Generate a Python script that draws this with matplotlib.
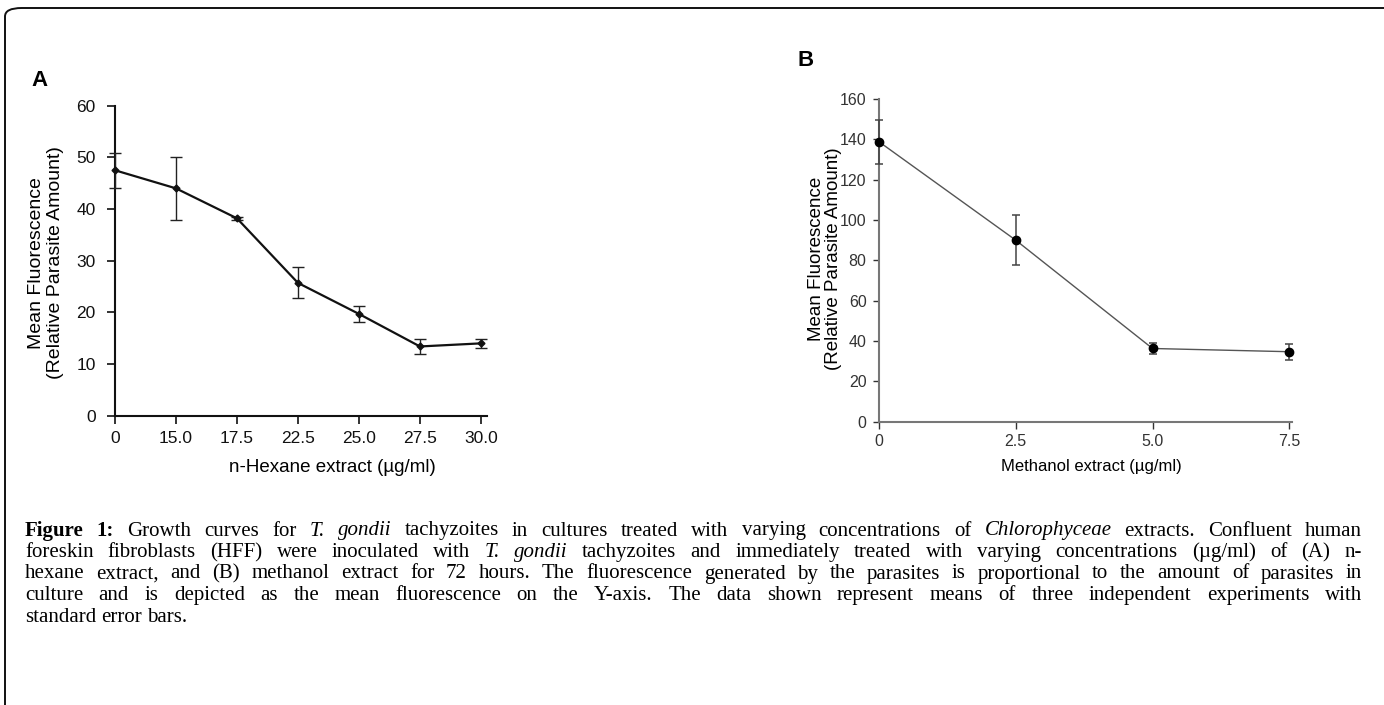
import matplotlib
matplotlib.use("Agg")
import matplotlib.pyplot as plt
from matplotlib.patches import FancyBboxPatch

# panel A: n-hexane extract
hex_labels = ['0', '15.0', '17.5', '22.5', '25.0', '27.5', '30.0']
hex_mean = [47.5, 44.0, 38.2, 25.7, 19.7, 13.4, 14.0]
hex_err = [3.4, 6.1, 0.3, 3.0, 1.6, 1.4, 0.8]

# panel B: methanol extract
meth_x = [0, 2.5, 5.0, 7.5]
meth_labels = ['0', '2.5', '5.0', '7.5']
meth_mean = [138.8, 90.0, 36.3, 34.7]
meth_err = [10.9, 12.5, 2.9, 4.0]

W, H = 1384, 705
fig = plt.figure(figsize=(W / 100, H / 100), dpi=100)
fig.patch.set_facecolor('white')

# rounded frame (only top and left visible)
frame = FancyBboxPatch((5 / W, -0.2), 1.2, 1.2 - 8 / H,
                       boxstyle="round,pad=0,rounding_size=0.012",
                       transform=fig.transFigure, fill=False,
                       ec='#111111', lw=1.4, clip_on=False)
fig.patches.append(frame)

sans = ['Liberation Sans', 'DejaVu Sans']
narrow = ['Liberation Sans Narrow', 'Liberation Sans', 'DejaVu Sans']
ylab = 'Mean Fluorescence\n(Relative Parasite Amount)'

# ---- panel A
axA = fig.add_axes([115 / W, (H - 415.7) / H, 372 / W, 310 / H])
xa = list(range(len(hex_labels)))
axA.errorbar(xa, hex_mean, yerr=hex_err, color='#111111', lw=1.6,
             marker='D', ms=3.5, ecolor='#222222', elinewidth=1.0,
             capsize=4.5, capthick=1.0, clip_on=False, zorder=3)
axA.set_xlim(0, 6.1)
axA.set_ylim(0, 60)
axA.set_yticks([0, 10, 20, 30, 40, 50, 60])
axA.set_xticks(xa)
axA.set_xticklabels(hex_labels)
for s in ['top', 'right']:
    axA.spines[s].set_visible(False)
for s in ['left', 'bottom']:
    axA.spines[s].set_linewidth(1.5)
    axA.spines[s].set_color('#111111')
axA.tick_params(direction='out', length=6, width=1.2, colors='#111111',
                labelsize=12.5, pad=5)
axA.tick_params(axis='y', pad=8)
for lab in axA.get_xticklabels() + axA.get_yticklabels():
    lab.set_family(sans)
fig.text(332 / W, (H - 467) / H, 'n-Hexane extract (µg/ml)', family=sans,
         fontsize=13.5, ha='center', va='center')
fig.text(46 / W, (H - 263) / H, ylab, rotation=90, ha='center', va='center',
         family=sans, fontsize=14, linespacing=1.08)
fig.text(40 / W, (H - 81) / H, 'A', family=sans, fontsize=16,
         fontweight='bold', ha='center', va='center')

# ---- panel B
axB = fig.add_axes([879 / W, (H - 421.7) / H, 413 / W, 322.7 / H])
axB.errorbar(meth_x, meth_mean, yerr=meth_err, color='#555555', lw=1.0,
             marker='o', ms=6, mfc='#000000', mec='#000000',
             ecolor='#444444', elinewidth=1.1, capsize=3.2, capthick=1.1,
             clip_on=False, zorder=3)
axB.set_xlim(0, 7.55)
axB.set_ylim(0, 160)
axB.set_yticks(range(0, 161, 20))
axB.set_xticks(meth_x)
axB.set_xticklabels(meth_labels)
for s in ['top', 'right']:
    axB.spines[s].set_visible(False)
for s in ['left', 'bottom']:
    axB.spines[s].set_linewidth(1.5)
    axB.spines[s].set_color('#777777')
axB.tick_params(direction='out', length=4, width=1.0, colors='#333333',
                labelsize=11.5, pad=5)
axB.tick_params(axis='x', length=5, pad=4)
for lab in axB.get_xticklabels() + axB.get_yticklabels():
    lab.set_family(narrow)
fig.text(1091 / W, (H - 466) / H, 'Methanol extract (µg/ml)', family=sans,
         fontsize=12, ha='center', va='center')
fig.text(825 / W, (H - 259) / H, ylab, rotation=90, ha='center', va='center',
         family=sans, fontsize=13.5, linespacing=1.05)
fig.text(806 / W, (H - 61) / H, 'B', family=sans, fontsize=16,
         fontweight='bold', ha='center', va='center')

# ---- caption, justified line by line
cap_lines = [
    [('Figure 1:', 'b'), (' Growth curves for ', 'n'), ('T. gondii', 'i'),
     (' tachyzoites in cultures treated with varying concentrations of ', 'n'),
     ('Chlorophyceae', 'i'), (' extracts. Confluent human', 'n')],
    [('foreskin fibroblasts (HFF) were inoculated with ', 'n'), ('T. gondii', 'i'),
     (' tachyzoites and immediately treated with varying concentrations (µg/ml) of (A) n-', 'n')],
    [('hexane extract, and (B) methanol extract for 72 hours. The fluorescence generated by the parasites is proportional to the amount of parasites in', 'n')],
    [('culture and is depicted as the mean fluorescence on the Y-axis. The data shown represent means of three independent experiments with', 'n')],
    [('standard error bars.', 'n')],
]
cap_y = [531, 552.5, 574, 595.5, 617]
x0, x1 = 25, 1362
serif = ['Liberation Serif', 'DejaVu Serif']
cap_size = 15

fig.canvas.draw()
rend = fig.canvas.get_renderer()
for li, (segs, yy) in enumerate(zip(cap_lines, cap_y)):
    words = []
    for txt, st in segs:
        for w in txt.split():
            words.append((w, st))
    items = []
    for w, st in words:
        t = fig.text(0, (H - yy) / H, w, family=serif, fontsize=cap_size,
                     fontweight='bold' if st == 'b' else 'normal',
                     fontstyle='italic' if st == 'i' else 'normal',
                     va='center', ha='left')
        items.append((t, t.get_window_extent(rend).width))
    total = sum(w for _, w in items)
    if li < len(cap_lines) - 1 and len(items) > 1:
        gap = (x1 - x0 - total) / (len(items) - 1)
    else:
        gap = cap_size * 0.25 * 100 / 72
    xx = x0
    for t, w in items:
        t.set_x(xx / W)
        xx += w + gap

fig.savefig('out.png', dpi=100)
